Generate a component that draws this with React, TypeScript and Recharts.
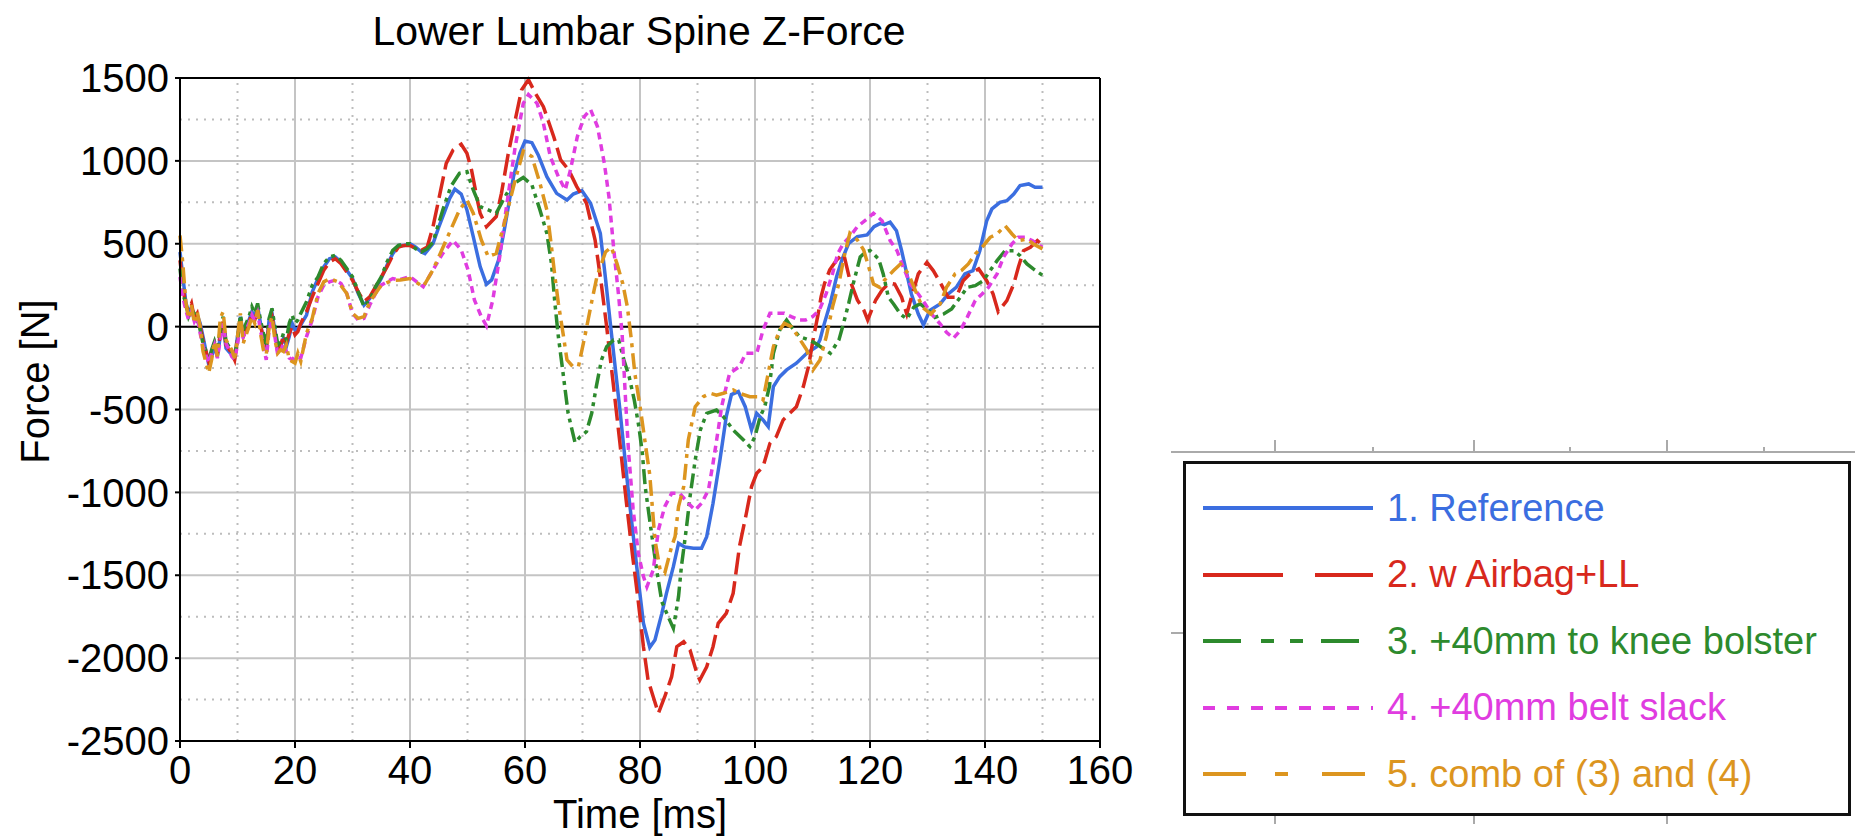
import { CartesianGrid, Legend, Line, LineChart, ReferenceLine, XAxis, YAxis } from "recharts";

// [time ms, force N]
const reference = [
  [0, 450], [0.5, 300], [1, 150], [1.5, 80], [2, 120], [2.5, 60], [3, 70], [3.5, 20], [4, -60], [5, -230],
  [5.5, -180], [6, -120], [6.5, -180], [7, -60], [7.5, 10], [8, -130], [9, -170], [9.5, -190], [10, -60],
  [10.5, 60], [11, -40], [12, 40], [12.5, 90], [13, 60], [13.5, 120], [14, 20], [14.5, -80], [15, -130],
  [15.5, 40], [16, 80], [16.5, -20], [17, -130], [17.5, -110], [18, -70], [18.5, -120], [19, -60], [19.5, 20],
  [20, -20], [20.5, -10], [21, 10], [22, 70], [23, 210], [24, 290], [25, 360], [26, 410], [27, 420], [28, 390],
  [29, 340], [30, 290], [31, 200], [32, 130], [33, 170], [34, 230], [35, 290], [36, 370], [37, 440], [38, 490],
  [39, 490], [40, 500], [41, 480], [42, 450], [42.6, 440], [44, 500], [45, 600], [45.7, 664], [46.9, 774],
  [47.8, 830], [48.9, 800], [49.9, 704], [51, 543], [52.2, 362], [53.3, 255], [54.2, 282], [55.4, 402],
  [56.5, 603], [58, 905], [59.1, 1046], [60, 1120], [61.2, 1110], [62.3, 1036], [63.8, 905], [65.5, 804],
  [67.3, 764], [68.4, 800], [69.9, 820], [71.4, 744], [73.1, 563], [74, 290], [74.9, 0], [76.5, -500],
  [78, -1005], [79.4, -1440], [80.6, -1790], [81.7, -1935], [82.6, -1890], [83.8, -1730], [84.6, -1609],
  [85.8, -1448], [86.7, -1307], [87.8, -1330], [89.3, -1337], [90.7, -1337], [91.6, -1267], [92.7, -1066],
  [93.9, -805], [95, -543], [95.9, -410], [97.1, -392], [98.3, -483], [99.4, -623], [100.3, -523],
  [101.4, -563], [102.3, -603], [103.2, -362], [104.3, -302], [105.5, -261], [107.2, -221], [109, -161],
  [110.7, -121], [111.3, -80], [111.9, 0], [113.1, 141], [114.2, 302], [115.1, 402], [116.3, 503],
  [117.8, 543], [119.5, 553], [120.7, 603], [121.8, 623], [122.5, 615], [123.5, 630], [124.6, 579],
  [125.5, 458], [126.4, 318], [127.2, 197], [128.4, 76], [129.3, 10], [130.4, 97], [132.2, 137], [133.6, 197],
  [135, 237], [136.5, 318], [137.9, 338], [139.1, 458], [140.3, 639], [141.2, 710], [142.6, 750], [143.8, 760],
  [145, 800], [146.1, 851], [147.6, 861], [148.7, 841], [150, 841],
];

const airbagLL = [
  [0, 400], [0.5, 250], [1, 120], [1.5, 100], [2, 140], [2.5, 50], [3, 80], [3.5, 0], [4, -80], [5, -210],
  [5.5, -150], [6, -100], [6.5, -170], [7, -40], [7.5, 30], [8, -110], [9, -160], [9.5, -200], [10, -80],
  [10.5, 40], [11, -60], [12, 20], [12.5, 80], [13, 40], [13.5, 100], [14, 0], [14.5, -60], [15, -140],
  [15.5, 20], [16, 60], [16.5, -40], [17, -150], [17.5, -120], [18, -50], [18.5, -100], [19, -40], [19.5, 0],
  [20, -50], [20.5, -30], [21, 20], [22, 90], [23, 180], [24, 260], [25, 340], [26, 390], [27, 410], [28, 380],
  [29, 330], [30, 280], [31, 210], [32, 150], [33, 180], [34, 240], [35, 300], [36, 360], [37, 430], [38, 480],
  [39, 490], [40, 490], [41, 470], [42, 460], [43, 480], [44, 603], [45.1, 784], [46.3, 985], [47.5, 1066],
  [48.9, 1100], [49.9, 1046], [50.7, 945], [51.6, 784], [52.2, 684], [53.3, 603], [55, 664], [55.9, 804],
  [57.1, 1046], [58.3, 1247], [59.4, 1428], [60.6, 1490], [61.8, 1408], [63.2, 1327], [65, 1146], [66.2, 1006],
  [67.6, 945], [69, 845], [70.7, 744], [72.2, 520], [73.3, 250], [74.2, 0], [75.3, -330], [76.5, -700],
  [77.6, -1050], [78.7, -1380], [79.6, -1629], [80.6, -1931], [81.4, -2132], [82.3, -2233], [83.2, -2333],
  [84.3, -2233], [85.5, -2112], [86.4, -1931], [87.6, -1901], [88.7, -1951], [89.9, -2092], [90.4, -2132],
  [91.6, -2052], [92.7, -1931], [93.6, -1790], [95, -1730], [96.2, -1609], [97.3, -1327], [98.5, -1126],
  [99.4, -965], [100.3, -885], [101.4, -845], [102.6, -704], [103.7, -664], [104.9, -563], [107.2, -483],
  [108.4, -362], [109.3, -241], [110.1, -80], [111, 80], [111.5, 181], [112.1, 261], [113, 342], [114.2, 402],
  [115.4, 442], [116.5, 281], [117.8, 161], [118.9, 101], [119.6, 40], [121, 161], [122.1, 221], [123.3, 261],
  [124.3, 257], [125.5, 177], [126.4, 76], [127.2, 177], [128.4, 318], [129.9, 388], [131, 338], [132.2, 267],
  [133.6, 177], [135, 177], [136.2, 277], [137.4, 318], [138.9, 348], [140.3, 277], [141.4, 197], [142.3, 90],
  [143.8, 157], [145, 257], [145.8, 358], [146.7, 458], [147.9, 479], [149.1, 519], [150, 490],
];

const kneeBolster = [
  [0, 350], [0.5, 200], [1, 140], [1.5, 60], [2, 100], [2.5, 80], [3, 40], [3.5, -20], [4, -100], [5, -200],
  [5.5, -140], [6, -90], [6.5, -150], [7, -20], [7.5, 60], [8, -90], [9, -150], [9.5, -170], [10, -90],
  [10.5, 70], [11, -20], [12, 60], [12.5, 120], [13, 80], [13.5, 140], [14, 40], [14.5, -40], [15, -110],
  [15.5, 50], [16, 110], [16.5, 0], [17, -110], [17.5, -90], [18, -40], [18.5, -80], [19, 20], [19.5, 70],
  [20, 20], [20.5, 40], [21, 80], [22, 150], [23, 250], [24, 300], [25, 380], [26, 420], [27, 430], [28, 400],
  [29, 350], [30, 300], [31, 210], [32, 120], [33, 160], [34, 240], [35, 300], [36, 390], [37, 460], [38, 490],
  [39, 500], [40, 500], [41, 470], [42, 450], [43, 470], [44, 510], [45.7, 704], [47.1, 845], [48.6, 925],
  [49.9, 935], [51, 825], [52.2, 724], [53.6, 704], [55, 684], [56.2, 764], [57.7, 855], [59.7, 900],
  [61.2, 855], [62.6, 704], [63.8, 563], [64.6, 382], [65.2, 141], [65.8, -60], [66.4, -221], [67.5, -523],
  [68.7, -700], [69.6, -664], [70.7, -633], [71.6, -523], [72.4, -362], [73.3, -201], [74.2, -121],
  [75.4, -80], [76.3, -80], [77.2, -201], [78.1, -300], [79, -442], [79.8, -603], [80.4, -760], [80.9, -965],
  [81.7, -1170], [82.9, -1468], [83.8, -1660], [84.9, -1750], [85.8, -1820], [86.7, -1629], [87.2, -1448],
  [88.1, -1207], [88.7, -1026], [89.6, -805], [90.5, -623], [91.6, -523], [93.3, -503], [94.5, -543],
  [96.2, -623], [98, -684], [99.1, -724], [100, -664], [100.9, -543], [101.7, -483], [102.5, -362],
  [103.2, -161], [104.3, -20], [105.5, 40], [106.3, 0], [107.7, -60], [109.4, -80], [110.5, -100],
  [113.1, -161], [114.6, -80], [115.4, 20], [116.3, 141], [117.1, 261], [118.3, 420], [119.2, 450], [120, 459],
  [121.5, 408], [122.3, 318], [123.2, 177], [124.1, 137], [125.3, 76], [126.4, 46], [127.6, 117], [128.7, 137],
  [129.9, 107], [131.3, 56], [132.8, 76], [134.2, 107], [135.7, 177], [136.9, 237], [138.3, 247], [139.7, 277],
  [140.9, 338], [142.1, 398], [143.5, 458], [145, 458], [146.1, 428], [147.3, 378], [148.4, 348], [150, 310],
];

const beltSlack = [
  [0, 300], [0.5, 180], [1, 100], [1.5, 40], [2, 90], [2.5, 30], [3, 60], [3.5, -40], [4, -120], [5, -220],
  [5.5, -160], [6, -110], [6.5, -190], [7, -80], [7.5, 20], [8, -100], [9, -180], [9.5, -200], [10, -110],
  [10.5, 30], [11, -60], [12, 20], [12.5, 70], [13, 30], [13.5, 80], [14, -20], [14.5, -120], [15, -200],
  [15.5, -20], [16, 40], [16.5, -60], [17, -170], [17.5, -150], [18, -100], [18.5, -150], [19, -190],
  [19.5, -200], [20, -180], [21, -190], [22, -60], [23, 40], [24, 180], [25, 250], [26, 270], [27, 280],
  [28, 260], [29, 200], [30, 80], [31, 40], [32, 50], [33, 130], [34, 200], [35, 250], [36, 270], [37, 290],
  [38, 281], [40, 302], [42.3, 241], [44, 342], [45.7, 442], [47.5, 520], [48.9, 463], [50.1, 342],
  [51.2, 161], [52.4, 60], [53.3, 5], [54.4, 161], [55.6, 422], [56.7, 704], [58.3, 1086], [59.7, 1347],
  [60.6, 1400], [62.1, 1347], [63.2, 1227], [64.4, 1026], [65.8, 905], [67, 825], [67.9, 945], [69.1, 1146],
  [70.3, 1267], [71.4, 1310], [72.6, 1207], [73.8, 985], [74.6, 784], [75.4, 480], [76.3, 180], [76.9, -50],
  [77.5, -450], [78, -750], [78.8, -1100], [79.7, -1367], [80.6, -1508], [81.2, -1570], [82.3, -1468],
  [83.2, -1227], [84.3, -1086], [85.5, -1006], [86.9, -1006], [88.4, -1066], [89.6, -1106], [90.7, -1066],
  [91.9, -986], [92.7, -825], [93.6, -623], [94.2, -483], [95, -362], [95.6, -281], [97.3, -241],
  [98.4, -161], [100.3, -161], [101.4, -20], [102.6, 80], [103.7, 80], [105.1, 80], [106.3, 60], [107.7, 40],
  [108.8, 40], [110, 60], [111.2, 100], [112.4, 201], [113.5, 322], [114.4, 442], [115.4, 503], [116.5, 543],
  [117.8, 603], [119.5, 650], [120.6, 684], [122.1, 639], [123.5, 519], [124.7, 458], [125.8, 358], [127, 257],
  [128.4, 197], [129.6, 137], [130.7, 76], [132.2, 16], [133.3, -34], [134.5, -70], [135.7, -24], [136.9, 56],
  [138.3, 157], [139.5, 197], [140.6, 237], [142.1, 318], [143.2, 418], [144.7, 499], [145.8, 539], [147, 539],
  [148.2, 519], [150, 479],
];

const combined = [
  [0, 550], [0.5, 380], [1, 150], [1.5, 50], [2, 130], [2.5, 20], [3, 90], [3.5, 0], [4, -150], [5, -280],
  [5.5, -200], [6, -90], [6.5, -180], [7, 50], [7.5, 90], [8, -80], [9, -140], [9.5, -190], [10, -60],
  [10.5, 80], [11, -100], [12, 0], [12.5, 60], [13, 20], [13.5, 100], [14, -40], [14.5, -140], [15, -170],
  [15.5, 0], [16, 60], [16.5, -80], [17, -160], [17.5, -140], [18, -150], [18.5, -110], [19, -200], [20, -220],
  [20.5, -160], [21, -210], [22, -40], [23, 50], [24, 200], [25, 270], [26, 290], [27.5, 270], [29, 200],
  [30, 80], [31, 50], [32, 60], [33, 150], [35, 250], [37, 280], [38.3, 281], [40, 290], [42.3, 241],
  [44, 342], [46.3, 523], [48.6, 704], [49.9, 764], [51, 684], [52.4, 523], [53.6, 422], [55, 442],
  [56.7, 664], [58.3, 885], [59.7, 1060], [61.2, 1026], [62.6, 865], [63.8, 704], [64.6, 483], [65.2, 302],
  [65.8, 141], [66.7, -60], [67.3, -200], [68.3, -240], [69.3, -240], [70.4, -60], [71.6, 150], [72.5, 300],
  [74, 450], [75, 480], [76, 380], [77, 260], [77.8, 120], [78.5, -80], [79.1, -282], [80, -480], [80.9, -700],
  [81.7, -895], [82.6, -1287], [83.5, -1468], [84.3, -1488], [85.5, -1327], [86.1, -1267], [86.7, -1086],
  [87.6, -965], [88.4, -684], [89.6, -483], [91, -423], [92.2, -402], [93.3, -413], [94.5, -402], [96.2, -382],
  [97.3, -402], [99.1, -423], [100.9, -423], [101.4, -442], [102.3, -281], [103.2, -121], [104.3, -20],
  [105.1, 20], [106.3, 0], [107.5, -60], [109, -141], [110.1, -261], [111.3, -201], [112.4, -60], [113.5, 121],
  [114.6, 261], [115.5, 422], [116.5, 563], [117.8, 523], [118.9, 462], [120.1, 322], [120.6, 257],
  [121.7, 237], [122.5, 280], [124.1, 338], [125.3, 378], [126.7, 318], [127.9, 217], [129.1, 117],
  [130.6, 76], [132.2, 137], [133.3, 237], [134.8, 318], [135.9, 338], [137.1, 378], [138.3, 438], [139.5, 479],
  [140.9, 539], [142.1, 559], [143.5, 609], [144.7, 559], [145.8, 519], [147.3, 529], [148.4, 499], [150, 469],
];

const seriesNames = [
  "1. Reference",
  "2. w Airbag+LL",
  "3. +40mm to knee bolster",
  "4. +40mm belt slack",
  "5. comb of (3) and (4)",
];
const seriesPoints = [reference, airbagLL, kneeBolster, beltSlack, combined];
const seriesColors = ["#3b6ee0", "#d8281c", "#2d8a2d", "#e03ce0", "#dc951f"];
const plotDash = [undefined, "22 7", "15 5 4 5 4 5", "7 5", "16 6 4 6"];
const legendDash = [undefined, "80 32", "38 20 13 16 13 18", "12 12", "43 29 13 34"];

const xTicks = [0, 20, 40, 60, 80, 100, 120, 140, 160];
const yTicks = [-2500, -2000, -1500, -1000, -500, 0, 500, 1000, 1500];
const xMinor = [10, 30, 50, 70, 90, 110, 130, 150];
const yMinor = [1250, 750, 250, -250, -750, -1250, -1750, -2250];

const FONT = '"Liberation Sans", Arial, sans-serif';

const series = seriesNames.map((name, i) => ({
  name,
  color: seriesColors[i],
  dash: plotDash[i],
  legendDash: legendDash[i],
  data: seriesPoints[i].map(([t, v]) => ({ t, v })),
}));

function LegendBox() {
  return (
    <div
      style={{
        position: "absolute",
        left: 1183,
        top: 461,
        width: 662,
        height: 349,
        border: "3px solid #111",
        background: "#fff",
        boxSizing: "content-box",
        fontFamily: FONT,
      }}
    >
      {series.map((s, i) => (
        <div
          key={s.name}
          style={{
            position: "absolute",
            left: 17,
            top: 44 + i * 66.5 - 20,
            height: 40,
            display: "flex",
            alignItems: "center",
          }}
        >
          <svg width={170} height={10}>
            <line
              x1={0}
              y1={5}
              x2={170}
              y2={5}
              stroke={s.color}
              strokeWidth={4}
              strokeDasharray={s.legendDash}
            />
          </svg>
          <span style={{ marginLeft: 14, fontSize: 38, color: s.color, whiteSpace: "nowrap" }}>
            {s.name}
          </span>
        </div>
      ))}
    </div>
  );
}

function YLabel(props: any) {
  const vb = props.viewBox || { x: 0, y: 0, height: 0 };
  const x = vb.x + 35;
  const y = vb.y + vb.height / 2 - 28;
  return (
    <text
      x={x}
      y={y}
      transform={`rotate(-90 ${x} ${y})`}
      textAnchor="middle"
      dominantBaseline="central"
      fontSize={40}
      fontFamily={FONT}
      fill="#000"
    >
      Force [N]
    </text>
  );
}

export default function App() {
  const tickStyle = { fill: "#000", fontSize: 40, fontFamily: FONT };
  return (
    <div style={{ position: "fixed", left: 0, top: 0, width: 1855, height: 839, background: "#fff", overflow: "hidden" }}>
      {/* bits of the chart hiding behind the legend */}
      <div style={{ position: "absolute", left: 1171, top: 451, width: 684, height: 2, background: "#aaa" }} />
      {[1274, 1473, 1666].map((x) => (
        <div key={x}>
          <div style={{ position: "absolute", left: x, top: 440, width: 2, height: 12, background: "#aaa" }} />
          <div style={{ position: "absolute", left: x, top: 816, width: 2, height: 8, background: "#aaa" }} />
        </div>
      ))}
      {[1372, 1569, 1763].map((x) => (
        <div key={x} style={{ position: "absolute", left: x, top: 447, width: 2, height: 5, background: "#aaa" }} />
      ))}
      <div style={{ position: "absolute", left: 1171, top: 632, width: 12, height: 2, background: "#aaa" }} />

      <div
        style={{
          position: "absolute",
          left: 0,
          top: 11,
          width: 1278,
          textAlign: "center",
          fontFamily: FONT,
          fontSize: 41,
          lineHeight: "41px",
          color: "#000",
        }}
      >
        Lower Lumbar Spine Z-Force
      </div>

      <div style={{ position: "absolute", left: 0, top: 0 }}>
        <LineChart width={1150} height={839} margin={{ top: 78, right: 50, bottom: 0, left: 0 }}>
          <CartesianGrid stroke="#c4c4c4" strokeWidth={2} />
          {xMinor.map((x) => (
            <ReferenceLine key={`x${x}`} x={x} stroke="#bdbdbd" strokeWidth={2} strokeDasharray="2 6" />
          ))}
          {yMinor.map((y) => (
            <ReferenceLine key={`y${y}`} y={y} stroke="#bdbdbd" strokeWidth={2} strokeDasharray="2 6" />
          ))}
          <ReferenceLine y={0} stroke="#000" strokeWidth={2} />
          <XAxis
            dataKey="t"
            type="number"
            domain={[0, 160]}
            ticks={xTicks}
            allowDuplicatedCategory={false}
            height={98}
            tick={tickStyle}
            tickSize={7}
            tickMargin={8}
            axisLine={{ stroke: "#000", strokeWidth: 2 }}
            tickLine={{ stroke: "#000", strokeWidth: 2 }}
            label={{ value: "Time [ms]", position: "insideBottom", offset: 11, fill: "#000", fontSize: 40, fontFamily: FONT }}
          />
          <YAxis
            type="number"
            domain={[-2500, 1500]}
            ticks={yTicks}
            width={180}
            interval={0}
            tick={tickStyle}
            tickSize={5}
            tickMargin={6}
            axisLine={{ stroke: "#000", strokeWidth: 2 }}
            tickLine={{ stroke: "#000", strokeWidth: 2 }}
            label={YLabel}
          />
          {series.map((s) => (
            <Line
              key={s.name}
              data={s.data}
              dataKey="v"
              name={s.name}
              type="linear"
              stroke={s.color}
              strokeWidth={3.5}
              strokeDasharray={s.dash}
              dot={false}
              activeDot={false}
              isAnimationActive={false}
            />
          ))}
          <ReferenceLine y={1500} stroke="#000" strokeWidth={2} />
          <ReferenceLine x={160} stroke="#000" strokeWidth={2} />
          <Legend content={() => null} />
        </LineChart>
      </div>

      <LegendBox />
    </div>
  );
}
